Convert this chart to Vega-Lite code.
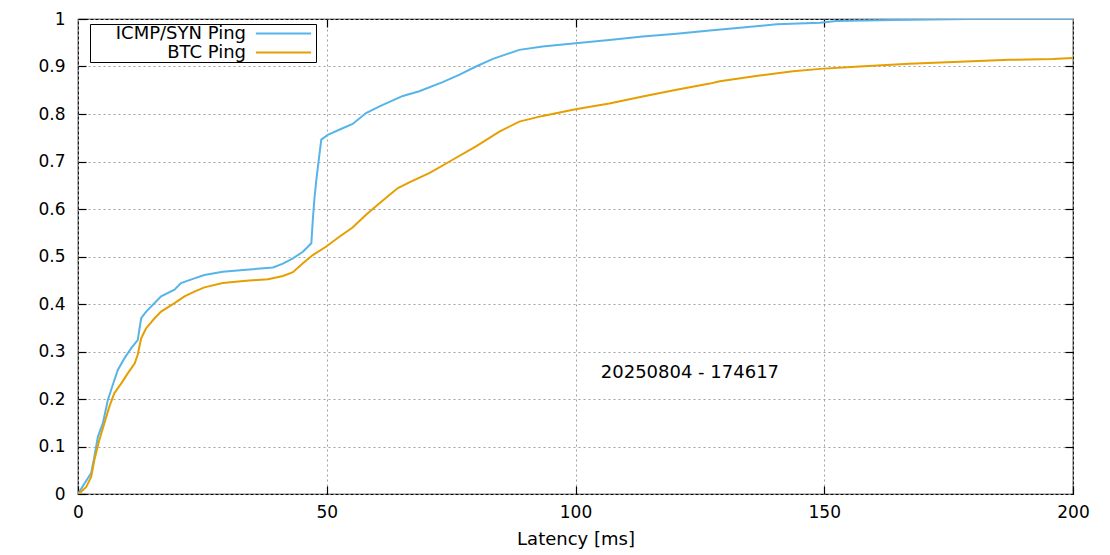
{
  "$schema": "https://vega.github.io/schema/vega-lite/v6.json",
  "width": 995,
  "height": 475,
  "autosize": "none",
  "padding": {"left": 78, "top": 19, "right": 37, "bottom": 61},
  "background": "white",
  "config": {
    "view": {"stroke": "#000000", "strokeWidth": 1.2},
    "font": "DejaVu Sans",
    "axis": {
      "labelFont": "DejaVu Sans",
      "labelFontSize": 17,
      "labelColor": "#000000",
      "labelFlush": false,
      "titleFont": "DejaVu Sans",
      "titleFontSize": 18,
      "titleFontWeight": "normal",
      "titleColor": "#000000",
      "domain": false,
      "tickColor": "#000000",
      "tickWidth": 1.2,
      "gridColor": "#a0a0a0",
      "gridDash": [2, 3],
      "gridWidth": 1,
      "gridOpacity": 1
    }
  },
  "datasets": {
    "cdf": [
      {"series": "ICMP/SYN Ping", "latency": 0, "cdf": 0},
      {"series": "ICMP/SYN Ping", "latency": 1.3, "cdf": 0.022},
      {"series": "ICMP/SYN Ping", "latency": 2.65, "cdf": 0.044},
      {"series": "ICMP/SYN Ping", "latency": 3.3, "cdf": 0.079},
      {"series": "ICMP/SYN Ping", "latency": 4.0, "cdf": 0.121},
      {"series": "ICMP/SYN Ping", "latency": 5.0, "cdf": 0.149},
      {"series": "ICMP/SYN Ping", "latency": 6.0, "cdf": 0.198},
      {"series": "ICMP/SYN Ping", "latency": 7.0, "cdf": 0.230},
      {"series": "ICMP/SYN Ping", "latency": 8.0, "cdf": 0.261},
      {"series": "ICMP/SYN Ping", "latency": 9.35, "cdf": 0.286},
      {"series": "ICMP/SYN Ping", "latency": 10.7, "cdf": 0.307},
      {"series": "ICMP/SYN Ping", "latency": 12.0, "cdf": 0.324},
      {"series": "ICMP/SYN Ping", "latency": 12.7, "cdf": 0.370},
      {"series": "ICMP/SYN Ping", "latency": 13.7, "cdf": 0.384},
      {"series": "ICMP/SYN Ping", "latency": 15.4, "cdf": 0.402},
      {"series": "ICMP/SYN Ping", "latency": 16.7, "cdf": 0.416},
      {"series": "ICMP/SYN Ping", "latency": 19.4, "cdf": 0.430},
      {"series": "ICMP/SYN Ping", "latency": 20.7, "cdf": 0.444},
      {"series": "ICMP/SYN Ping", "latency": 23.4, "cdf": 0.454},
      {"series": "ICMP/SYN Ping", "latency": 25.4, "cdf": 0.461},
      {"series": "ICMP/SYN Ping", "latency": 29.1, "cdf": 0.468},
      {"series": "ICMP/SYN Ping", "latency": 33.8, "cdf": 0.472},
      {"series": "ICMP/SYN Ping", "latency": 39.2, "cdf": 0.477},
      {"series": "ICMP/SYN Ping", "latency": 41.2, "cdf": 0.485},
      {"series": "ICMP/SYN Ping", "latency": 43.2, "cdf": 0.496},
      {"series": "ICMP/SYN Ping", "latency": 45.2, "cdf": 0.510},
      {"series": "ICMP/SYN Ping", "latency": 46.9, "cdf": 0.528},
      {"series": "ICMP/SYN Ping", "latency": 47.2, "cdf": 0.577},
      {"series": "ICMP/SYN Ping", "latency": 47.5, "cdf": 0.619},
      {"series": "ICMP/SYN Ping", "latency": 47.9, "cdf": 0.661},
      {"series": "ICMP/SYN Ping", "latency": 48.4, "cdf": 0.704},
      {"series": "ICMP/SYN Ping", "latency": 48.9, "cdf": 0.746},
      {"series": "ICMP/SYN Ping", "latency": 50.2, "cdf": 0.756},
      {"series": "ICMP/SYN Ping", "latency": 53.2, "cdf": 0.770},
      {"series": "ICMP/SYN Ping", "latency": 55.2, "cdf": 0.779},
      {"series": "ICMP/SYN Ping", "latency": 57.9, "cdf": 0.802},
      {"series": "ICMP/SYN Ping", "latency": 60.6, "cdf": 0.816},
      {"series": "ICMP/SYN Ping", "latency": 65.3, "cdf": 0.838},
      {"series": "ICMP/SYN Ping", "latency": 68.6, "cdf": 0.848},
      {"series": "ICMP/SYN Ping", "latency": 73.3, "cdf": 0.867},
      {"series": "ICMP/SYN Ping", "latency": 76.7, "cdf": 0.883},
      {"series": "ICMP/SYN Ping", "latency": 80.0, "cdf": 0.900},
      {"series": "ICMP/SYN Ping", "latency": 83.4, "cdf": 0.916},
      {"series": "ICMP/SYN Ping", "latency": 88.7, "cdf": 0.935},
      {"series": "ICMP/SYN Ping", "latency": 93.4, "cdf": 0.942},
      {"series": "ICMP/SYN Ping", "latency": 100, "cdf": 0.949},
      {"series": "ICMP/SYN Ping", "latency": 106.8, "cdf": 0.956},
      {"series": "ICMP/SYN Ping", "latency": 113.5, "cdf": 0.963},
      {"series": "ICMP/SYN Ping", "latency": 120.3, "cdf": 0.969},
      {"series": "ICMP/SYN Ping", "latency": 127, "cdf": 0.976},
      {"series": "ICMP/SYN Ping", "latency": 133.6, "cdf": 0.982},
      {"series": "ICMP/SYN Ping", "latency": 140.4, "cdf": 0.989},
      {"series": "ICMP/SYN Ping", "latency": 149.2, "cdf": 0.992},
      {"series": "ICMP/SYN Ping", "latency": 152.4, "cdf": 0.996},
      {"series": "ICMP/SYN Ping", "latency": 163.8, "cdf": 0.998},
      {"series": "ICMP/SYN Ping", "latency": 179.2, "cdf": 1.0},
      {"series": "ICMP/SYN Ping", "latency": 200, "cdf": 1.0},
      {"series": "BTC Ping", "latency": 0, "cdf": 0},
      {"series": "BTC Ping", "latency": 0.3, "cdf": 0.0015},
      {"series": "BTC Ping", "latency": 1.65, "cdf": 0.015},
      {"series": "BTC Ping", "latency": 2.65, "cdf": 0.036},
      {"series": "BTC Ping", "latency": 3.3, "cdf": 0.072},
      {"series": "BTC Ping", "latency": 4.3, "cdf": 0.114},
      {"series": "BTC Ping", "latency": 5.3, "cdf": 0.149},
      {"series": "BTC Ping", "latency": 6.3, "cdf": 0.184},
      {"series": "BTC Ping", "latency": 7.3, "cdf": 0.212},
      {"series": "BTC Ping", "latency": 8.7, "cdf": 0.233},
      {"series": "BTC Ping", "latency": 10.0, "cdf": 0.254},
      {"series": "BTC Ping", "latency": 11.4, "cdf": 0.275},
      {"series": "BTC Ping", "latency": 12.0, "cdf": 0.293},
      {"series": "BTC Ping", "latency": 12.7, "cdf": 0.328},
      {"series": "BTC Ping", "latency": 13.7, "cdf": 0.349},
      {"series": "BTC Ping", "latency": 15.4, "cdf": 0.370},
      {"series": "BTC Ping", "latency": 16.7, "cdf": 0.384},
      {"series": "BTC Ping", "latency": 19.4, "cdf": 0.402},
      {"series": "BTC Ping", "latency": 21.4, "cdf": 0.416},
      {"series": "BTC Ping", "latency": 23.4, "cdf": 0.426},
      {"series": "BTC Ping", "latency": 25.4, "cdf": 0.435},
      {"series": "BTC Ping", "latency": 29.1, "cdf": 0.444},
      {"series": "BTC Ping", "latency": 33.8, "cdf": 0.449},
      {"series": "BTC Ping", "latency": 38.2, "cdf": 0.452},
      {"series": "BTC Ping", "latency": 41.2, "cdf": 0.459},
      {"series": "BTC Ping", "latency": 43.2, "cdf": 0.467},
      {"series": "BTC Ping", "latency": 45.2, "cdf": 0.486},
      {"series": "BTC Ping", "latency": 47.2, "cdf": 0.503},
      {"series": "BTC Ping", "latency": 49.9, "cdf": 0.521},
      {"series": "BTC Ping", "latency": 52.6, "cdf": 0.542},
      {"series": "BTC Ping", "latency": 55.2, "cdf": 0.561},
      {"series": "BTC Ping", "latency": 57.9, "cdf": 0.588},
      {"series": "BTC Ping", "latency": 60.6, "cdf": 0.612},
      {"series": "BTC Ping", "latency": 64.3, "cdf": 0.644},
      {"series": "BTC Ping", "latency": 66.6, "cdf": 0.656},
      {"series": "BTC Ping", "latency": 70.7, "cdf": 0.676},
      {"series": "BTC Ping", "latency": 74.7, "cdf": 0.700},
      {"series": "BTC Ping", "latency": 80.0, "cdf": 0.732},
      {"series": "BTC Ping", "latency": 84.7, "cdf": 0.763},
      {"series": "BTC Ping", "latency": 88.7, "cdf": 0.784},
      {"series": "BTC Ping", "latency": 93.4, "cdf": 0.796},
      {"series": "BTC Ping", "latency": 100, "cdf": 0.810},
      {"series": "BTC Ping", "latency": 106.8, "cdf": 0.822},
      {"series": "BTC Ping", "latency": 113.5, "cdf": 0.837},
      {"series": "BTC Ping", "latency": 120.3, "cdf": 0.851},
      {"series": "BTC Ping", "latency": 127, "cdf": 0.864},
      {"series": "BTC Ping", "latency": 129, "cdf": 0.869},
      {"series": "BTC Ping", "latency": 137, "cdf": 0.881},
      {"series": "BTC Ping", "latency": 143.7, "cdf": 0.890},
      {"series": "BTC Ping", "latency": 149.2, "cdf": 0.895},
      {"series": "BTC Ping", "latency": 157.1, "cdf": 0.900},
      {"series": "BTC Ping", "latency": 167.1, "cdf": 0.906},
      {"series": "BTC Ping", "latency": 177.2, "cdf": 0.910},
      {"series": "BTC Ping", "latency": 187.2, "cdf": 0.914},
      {"series": "BTC Ping", "latency": 195.9, "cdf": 0.916},
      {"series": "BTC Ping", "latency": 200, "cdf": 0.918}
    ],
    "note": [{"label": "20250804 - 174617"}]
  },
  "resolve": {"axis": {"x": "independent", "y": "independent"}},
  "layer": [
    {
      "data": {"name": "cdf"},
      "mark": {"type": "line", "strokeWidth": 2, "clip": true},
      "encoding": {
        "x": {
          "field": "latency",
          "type": "quantitative",
          "scale": {"domain": [0, 200], "nice": false, "zero": false},
          "axis": {
            "orient": "bottom",
            "title": "Latency [ms]",
            "values": [0, 50, 100, 150, 200],
            "tickSize": -8,
            "labelPadding": 18,
            "titlePadding": 10,
            "grid": true
          }
        },
        "y": {
          "field": "cdf",
          "type": "quantitative",
          "scale": {"domain": [0, 1], "nice": false},
          "axis": {
            "orient": "left",
            "title": null,
            "values": [0, 0.1, 0.2, 0.3, 0.4, 0.5, 0.6, 0.7, 0.8, 0.9, 1],
            "format": "~g",
            "tickSize": -8,
            "labelPadding": 21,
            "grid": true
          }
        },
        "color": {
          "field": "series",
          "type": "nominal",
          "sort": ["ICMP/SYN Ping", "BTC Ping"],
          "scale": {"domain": ["ICMP/SYN Ping", "BTC Ping"], "range": ["#56b4e9", "#e69f00"]},
          "legend": {
            "title": null,
            "orient": "none",
            "legendX": 12,
            "legendY": 5,
            "symbolType": "M-3.25,0H3.25",
            "symbolSize": 289,
            "symbolStrokeWidth": 2,
            "symbolOffset": 184,
            "rowPadding": 0,
            "labelFont": "DejaVu Sans",
            "labelFontSize": 18,
            "labelColor": "#000000",
            "labelAlign": "right",
            "labelOffset": -47,
            "strokeColor": "#000000",
            "fillColor": "#ffffff",
            "padding": 0,
            "cornerRadius": 0
          }
        },
        "order": {"field": "latency", "type": "quantitative"}
      }
    },
    {
      "data": {"name": "note"},
      "mark": {"type": "text", "font": "DejaVu Sans", "fontSize": 18, "color": "#000000", "align": "center", "baseline": "middle"},
      "encoding": {
        "x": {
          "datum": 123,
          "type": "quantitative",
          "axis": {"orient": "top", "title": null, "labels": false, "grid": false, "values": [50, 100, 150], "tickSize": -8}
        },
        "y": {
          "datum": 0.255,
          "type": "quantitative",
          "axis": {"orient": "right", "title": null, "labels": false, "grid": false, "values": [0.1, 0.2, 0.3, 0.4, 0.5, 0.6, 0.7, 0.8, 0.9], "tickSize": -8}
        },
        "text": {"field": "label"}
      }
    }
  ]
}
